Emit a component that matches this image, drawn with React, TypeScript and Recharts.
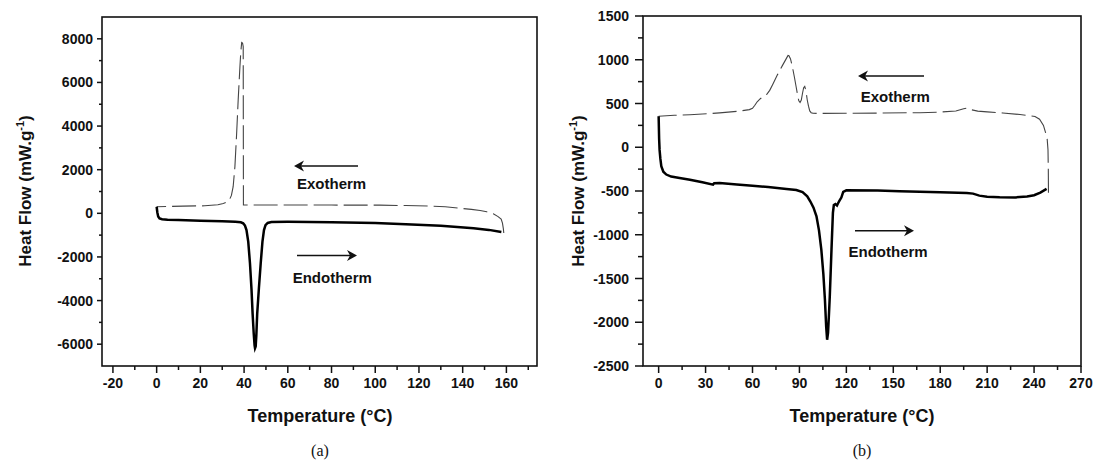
import { LineChart, Line, XAxis, YAxis } from "recharts";

// ---- panel (a): [temperature °C, heat flow mW/g]
const heatingA: [number, number][] = [
  [0, 300], [0.3, 50], [0.7, -150], [1.3, -230], [2.5, -270], [5, -290], [10, -310],
  [20, -340], [30, -365], [36, -385], [38.5, -410], [39.6, -460], [40.4, -560],
  [41.1, -770], [41.9, -1300], [42.7, -2300], [43.4, -3500], [43.9, -4600],
  [44.4, -5500], [44.8, -6050], [45.0, -6180], [45.3, -6100], [45.6, -5600],
  [46.0, -4600], [46.8, -3400], [47.6, -2300], [48.4, -1300], [49.1, -770],
  [49.8, -540], [50.8, -440], [52.5, -400], [60, -390], [80, -405], [100, -440],
  [114, -500], [130, -570], [145, -680], [152, -760], [157.7, -860],
];

const coolingA: [number, number][] = [
  [158.8, -900], [158.6, -700], [158.2, -450], [157.6, -260], [156.2, -150],
  [154, -20], [151, 70], [148, 130], [144, 180], [138, 240], [132, 300],
  [124, 335], [114, 355], [102, 375], [80, 378], [60, 378], [45, 378],
  [40.2, 380], [39.7, 385], [39.6, 7650], [39.3, 7800], [38.9, 7830],
  [38.5, 7400], [38.1, 6730], [37.3, 5200], [36.6, 3670], [35.8, 2140],
  [35, 1220], [34.2, 820], [33.3, 620], [32.3, 520], [30.5, 450], [28, 390],
  [22, 345], [12, 330], [0, 300],
];

// ---- panel (b)
const heatingB: [number, number][] = [
  [0, 355], [0.3, 100], [0.6, -30], [1.1, -130], [1.7, -217], [3, -280],
  [4.9, -312], [8, -335], [13.4, -352], [20, -372], [28, -400], [34.8, -427],
  [35.5, -412], [39, -410], [50, -425], [60, -440], [70, -455], [81.7, -476],
  [88, -488], [92, -512], [95, -560], [97, -620], [99, -690], [100.9, -789],
  [102.5, -950], [104, -1170], [105.3, -1450], [106.3, -1743], [107.1, -2050],
  [107.7, -2200], [108.3, -2120], [108.9, -1900], [109.4, -1705], [110.5, -1170],
  [111.4, -750], [112, -660], [113, -650], [114, -665], [114.7, -640],
  [115.6, -610], [116.8, -575], [118, -510], [120, -492], [140, -495],
  [154, -503], [180, -515], [197, -522], [201, -530], [205, -553], [210, -565],
  [218, -572], [228, -573], [235.5, -562], [240, -548], [244, -518], [248, -476],
];

const coolingB: [number, number][] = [
  [249.2, -520], [249.1, -250], [248.9, -30], [248.4, 90], [247.4, 165],
  [246, 250], [243.5, 320], [240.6, 352], [231, 374], [220, 392], [210, 404],
  [204, 413], [200, 428], [197, 448], [195, 440], [190, 415], [180, 402],
  [167, 395], [140, 390], [120, 388], [105, 387], [98.7, 388], [97.5, 395],
  [96.6, 415], [95.8, 470], [95, 540], [94.2, 640], [93.4, 695], [92.7, 680],
  [92, 620], [91.2, 540], [90.4, 512], [89.6, 530], [88.8, 600], [87.8, 700],
  [86.8, 800], [85.5, 920], [84.3, 1010], [83.3, 1045], [82.7, 1049],
  [81.5, 1010], [79, 930], [76, 830], [73, 720], [71, 650], [69, 603],
  [67, 580], [65, 555], [63, 520], [61.5, 480], [60, 445], [58, 430],
  [50, 410], [39, 393], [28, 380], [20, 372], [10, 365], [0, 355],
];

// ticks
const xMajorA = [-20, 0, 20, 40, 60, 80, 100, 120, 140, 160];
const xMinorA = [-10, 10, 30, 50, 70, 90, 110, 130, 150, 170];
const yMajorA = [-6000, -4000, -2000, 0, 2000, 4000, 6000, 8000];
const yMinorA = [-5000, -3000, -1000, 1000, 3000, 5000, 7000];
const xMajorB = [0, 30, 60, 90, 120, 150, 180, 210, 240, 270];
const xMinorB = [15, 45, 75, 105, 135, 165, 195, 225, 255];
const yMajorB = [-2500, -2000, -1500, -1000, -500, 0, 500, 1000, 1500];
const yMinorB = [-2250, -1750, -1250, -750, -250, 250, 750, 1250];

const toPts = (arr: [number, number][]) => arr.map(([t, q]) => ({ t, q }));

const INK = "#111";
const SANS = "'Liberation Sans', Arial, sans-serif";
const W = 548;
const H = 463;
const X_AXIS_H = 30;
const Y_AXIS_W = 60;

const X_MAJ = 7;
const X_MIN = 4;
const X_GAP = 5;

const makeXTick = (majors: number[]) => (p: any) => {
  const v = p.payload.value;
  const isMajor = majors.includes(v);
  const y0 = p.y - X_GAP - X_MAJ;
  return (
    <g>
      <line x1={p.x} x2={p.x} y1={y0} y2={y0 + (isMajor ? X_MAJ : X_MIN)} stroke={INK} strokeWidth={1.5} />
      {isMajor && (
        <text
          x={p.x}
          y={y0 + X_MAJ + X_GAP + 10}
          textAnchor="middle"
          fontFamily={SANS}
          fontWeight="bold"
          fontSize={14}
          fill={INK}
        >
          {v}
        </text>
      )}
    </g>
  );
};

const makeYTick = (majors: number[], maj: number, min: number, gap: number) => (p: any) => {
  const v = p.payload.value;
  const isMajor = majors.includes(v);
  const x0 = p.x + gap + maj;
  return (
    <g>
      <line x1={x0} x2={x0 - (isMajor ? maj : min)} y1={p.y} y2={p.y} stroke={INK} strokeWidth={1.5} />
      {isMajor && (
        <text
          x={x0 - maj - gap}
          y={p.y + 5}
          textAnchor="end"
          fontFamily={SANS}
          fontWeight="bold"
          fontSize={14}
          fill={INK}
        >
          {v}
        </text>
      )}
    </g>
  );
};

type Margin = { top: number; right: number; bottom: number; left: number };

type PanelProps = {
  left: number;
  heating: [number, number][];
  cooling: [number, number][];
  xDomain: [number, number];
  yDomain: [number, number];
  xMajor: number[];
  xMinor: number[];
  yMajor: number[];
  yMinor: number[];
  margin: Margin;
  yTick: [number, number, number];
};

// plot frame follows from the chart margins
const frameOf = (left: number, m: Margin) => {
  const x = left + m.left + Y_AXIS_W;
  return { x, y: m.top, w: left + W - m.right - x, h: H - m.top - m.bottom - X_AXIS_H };
};

function Panel(props: PanelProps) {
  const { left, heating, cooling, xDomain, yDomain, xMajor, xMinor, yMajor, yMinor, margin, yTick } = props;
  return (
    <div style={{ position: "absolute", left, top: 0, width: W, height: H }}>
      <LineChart width={W} height={H} margin={margin}>
        <XAxis
          dataKey="t"
          type="number"
          domain={xDomain}
          allowDataOverflow
          ticks={[...xMajor, ...xMinor].sort((a, b) => a - b)}
          interval={0}
          height={X_AXIS_H}
          tickSize={X_MAJ}
          tickMargin={X_GAP}
          tickLine={false}
          tick={makeXTick(xMajor)}
          axisLine={false}
        />
        <YAxis
          dataKey="q"
          type="number"
          domain={yDomain}
          allowDataOverflow
          ticks={[...yMajor, ...yMinor].sort((a, b) => a - b)}
          interval={0}
          width={Y_AXIS_W}
          tickSize={yTick[0]}
          tickMargin={yTick[2]}
          tickLine={false}
          tick={makeYTick(yMajor, yTick[0], yTick[1], yTick[2])}
          axisLine={false}
        />
        <Line
          data={toPts(cooling)}
          dataKey="q"
          type="linear"
          stroke="#444"
          strokeWidth={1.1}
          strokeDasharray="24 6"
          dot={false}
          activeDot={false}
          isAnimationActive={false}
        />
        <Line
          data={toPts(heating)}
          dataKey="q"
          type="linear"
          stroke="#000"
          strokeWidth={2.5}
          dot={false}
          activeDot={false}
          isAnimationActive={false}
        />
      </LineChart>
    </div>
  );
}

const titleFont = { fontFamily: SANS, fontWeight: 700, fill: INK };

function Arrow({ x1, x2, y }: { x1: number; x2: number; y: number }) {
  // arrow from x1 (tail) to x2 (tip)
  const d = x2 > x1 ? 1 : -1;
  return (
    <g>
      <line x1={x1} x2={x2 - d * 5} y1={y} y2={y} stroke={INK} strokeWidth={1.6} />
      <path
        d={`M ${x2} ${y} L ${x2 - d * 10} ${y - 5.5} L ${x2 - d * 7} ${y} L ${x2 - d * 10} ${y + 5.5} Z`}
        fill={INK}
      />
    </g>
  );
}

function YTitle({ x, y }: { x: number; y: number }) {
  return (
    <text transform={`translate(${x},${y}) rotate(-90)`} textAnchor="middle" fontSize={17} style={titleFont}>
      Heat Flow (mW.g<tspan dy={-7} fontSize={11}>-1</tspan>
      <tspan dy={7}>)</tspan>
    </text>
  );
}

const marginA: Margin = { top: 17, right: 11, bottom: 67, left: 42 };
const marginB: Margin = { top: 16, right: 15, bottom: 67, left: 35 };

export default function App() {
  const fa = frameOf(0, marginA);
  const fb = frameOf(548, marginB);
  return (
    <div style={{ position: "absolute", left: 0, top: 0, width: 1096, height: 463, background: "#fff" }}>
      <Panel
        left={0}
        heating={heatingA}
        cooling={coolingA}
        xDomain={[-25, 174]}
        yDomain={[-7000, 9000]}
        xMajor={xMajorA}
        xMinor={xMinorA}
        yMajor={yMajorA}
        yMinor={yMinorA}
        margin={marginA}
        yTick={[5, 3, 4]}
      />
      <Panel
        left={548}
        heating={heatingB}
        cooling={coolingB}
        xDomain={[-10, 270]}
        yDomain={[-2500, 1500]}
        xMajor={xMajorB}
        xMinor={xMinorB}
        yMajor={yMajorB}
        yMinor={yMinorB}
        margin={marginB}
        yTick={[8, 5, 6]}
      />
      <svg
        width={1096}
        height={463}
        style={{ position: "absolute", left: 0, top: 0, pointerEvents: "none" }}
      >
        <rect x={fa.x} y={fa.y} width={fa.w} height={fa.h} fill="none" stroke={INK} strokeWidth={1.6} />
        <rect x={fb.x} y={fb.y} width={fb.w} height={fb.h} fill="none" stroke={INK} strokeWidth={1.6} />

        <YTitle x={31} y={191} />
        <YTitle x={584} y={191} />
        <text x={320} y={421.5} textAnchor="middle" fontSize={18} style={titleFont}>
          Temperature (°C)
        </text>
        <text x={862} y={421.5} textAnchor="middle" fontSize={18} style={titleFont}>
          Temperature (°C)
        </text>

        <Arrow x1={358} x2={294} y={166} />
        <text x={297} y={188.7} fontSize={15} style={titleFont}>Exotherm</text>
        <Arrow x1={297} x2={357} y={255.5} />
        <text x={292.7} y={282.7} fontSize={15} style={titleFont}>Endotherm</text>

        <Arrow x1={924} x2={858} y={76} />
        <text x={860.7} y={102} fontSize={15} style={titleFont}>Exotherm</text>
        <Arrow x1={855} x2={914} y={230.7} />
        <text x={848.5} y={257.4} fontSize={15} style={titleFont}>Endotherm</text>

        <text x={320} y={456} textAnchor="middle" fontSize={16} fontFamily="'Liberation Serif', 'Times New Roman', serif" fill={INK}>
          (a)
        </text>
        <text x={862} y={456} textAnchor="middle" fontSize={16} fontFamily="'Liberation Serif', 'Times New Roman', serif" fill={INK}>
          (b)
        </text>
      </svg>
    </div>
  );
}
